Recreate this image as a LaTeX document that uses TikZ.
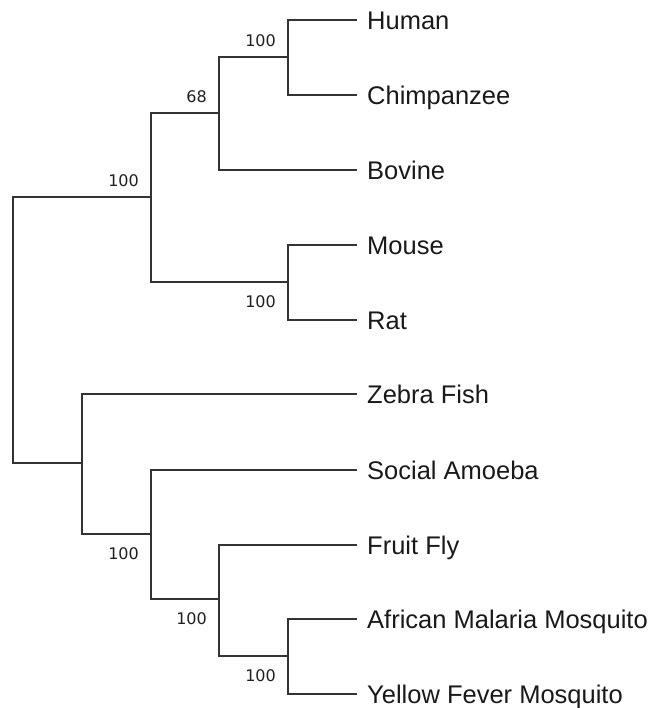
\documentclass[tikz,border=0pt]{standalone}
\usepackage{fontspec}
\setmainfont{Liberation Sans}
\newfontfamily\bsfont{DejaVu Sans}
\begin{document}
\begin{tikzpicture}[x=1pt,y=-1pt,
  branch/.style={draw=black!80,line width=2pt,line cap=rect},
  leaf/.style={anchor=west,inner xsep=11pt,inner ysep=0pt,text height=18.3pt,text depth=0pt,
    font=\fontsize{25.5}{28}\selectfont,text=black!90},
  boot/.style={inner sep=0pt,font=\bsfont\fontsize{16}{18}\selectfont,text=black!88},
  bootabove/.style={boot,anchor=base east,xshift=-12pt,yshift=10pt},
  bootbelow/.style={boot,anchor=base east,xshift=-12pt,yshift=-25pt}]
\useasboundingbox (0,0) rectangle (652,708);
% leaves
\node[leaf] (human) at (356,20) {Human};
\node[leaf] (chimp) at (356,95) {Chimpanzee};
\node[leaf] (bovine) at (356,170) {Bovine};
\node[leaf] (mouse) at (356,245) {Mouse};
\node[leaf] (rat) at (356,320) {Rat};
\node[leaf] (zebra) at (356,394) {Zebra Fish};
\node[leaf] (amoeba) at (356,470) {Social Amoeba};
\node[leaf] (fly) at (356,545) {Fruit Fly};
\node[leaf] (malaria) at (356,619) {African Malaria Mosquito};
\node[leaf] (yellow) at (356,694) {Yellow Fever Mosquito};
% internal nodes
\coordinate (hc) at (288,57);
\coordinate (p68) at (219,113);
\coordinate (mr) at (288,282);
\coordinate (mam) at (151,197);
\coordinate (n3) at (288,656);
\coordinate (n2) at (219,599);
\coordinate (n1) at (151,534);
\coordinate (oth) at (82,463);
\coordinate (root) at (13,330);
% branches
\draw[branch] (hc) |- (human.west);
\draw[branch] (hc) |- (chimp.west);
\draw[branch] (p68) |- (hc);
\draw[branch] (p68) |- (bovine.west);
\draw[branch] (mr) |- (mouse.west);
\draw[branch] (mr) |- (rat.west);
\draw[branch] (mam) |- (p68);
\draw[branch] (mam) |- (mr);
\draw[branch] (n3) |- (malaria.west);
\draw[branch] (n3) |- (yellow.west);
\draw[branch] (n2) |- (fly.west);
\draw[branch] (n2) |- (n3);
\draw[branch] (n1) |- (amoeba.west);
\draw[branch] (n1) |- (n2);
\draw[branch] (oth) |- (zebra.west);
\draw[branch] (oth) |- (n1);
\draw[branch] (root) |- (mam);
\draw[branch] (root) |- (oth);
% bootstrap values
\node[bootabove] (bhc) at (hc) {100};
\node[bootabove] (b68) at (p68) {68};
\node[bootabove] (bmam) at (mam) {100};
\node[bootbelow] (bmr) at (mr) {100};
\node[bootbelow] (bn1) at (n1) {100};
\node[bootbelow] (bn2) at (n2) {100};
\node[bootbelow] (bn3) at (n3) {100};
\end{tikzpicture}
\end{document}
